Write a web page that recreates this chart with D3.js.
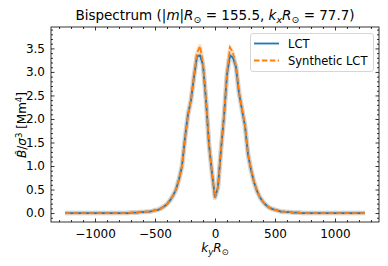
<!DOCTYPE html>
<html>
<head>
<meta charset="utf-8">
<script src="https://cdn.jsdelivr.net/npm/d3@7"></script>
<style>
  body { margin: 0; background: #fff; }
  svg { font-family: "DejaVu Sans", sans-serif; }
</style>
</head>
<body>
<div id="chart"></div>
<script>
// k_y R_sun grid
const ky = [-1250, -1225, -1200, -1175, -1150, -1125, -1100, -1075, -1050, -1025,
  -1000, -975, -950, -925, -900, -875, -850, -825, -800, -775, -750, -725,
  -700, -675, -650, -625, -600, -575, -550, -525, -500, -475, -450, -425, -400,
  -375, -350, -325, -300, -275, -250, -225, -200, -175, -150, -125, -100, -75, -50, -25,
  0,
  25, 50, 75, 100, 125, 150, 175, 200, 225, 250, 275, 300, 325, 350, 375, 400,
  425, 450, 475, 500, 525, 550, 575, 600, 625, 650, 675, 700,
  725, 750, 775, 800, 825, 850, 875, 900, 925, 950, 975, 1000,
  1025, 1050, 1075, 1100, 1125, 1150, 1175, 1200, 1225, 1250];

const lct = [0, 0, 0, 0, 0, 0, 0, 0, 0, 0,
  0, 0, 0, 0, 0, 0, 0, 0, 0, 0, 0, 0,
  0.01, 0.01, 0.01, 0.02, 0.02, 0.03, 0.03, 0.04, 0.06, 0.07, 0.10, 0.14, 0.19,
  0.27, 0.37, 0.50, 0.72, 1.00, 1.60, 2.10, 2.40, 2.90, 3.33, 3.35, 3.15, 2.40, 1.45, 0.85,
  0.33,
  0.55, 1.35, 2.05, 2.95, 3.35, 3.30, 3.10, 2.55, 2.20, 1.85, 1.25, 0.92, 0.66, 0.47, 0.33, 0.24,
  0.17, 0.12, 0.09, 0.07, 0.05, 0.03, 0.03, 0.02, 0.02, 0.01, 0.01, 0.01,
  0, 0, 0, 0, 0, 0, 0, 0, 0, 0, 0, 0,
  0, 0, 0, 0, 0, 0, 0, 0, 0, 0];

const synth = [0, 0, 0, 0, 0, 0, 0, 0, 0, 0,
  0, 0, 0, 0, 0, 0, 0, 0, 0, 0, 0, 0,
  0.01, 0.01, 0.01, 0.02, 0.02, 0.03, 0.03, 0.04, 0.06, 0.07, 0.10, 0.14, 0.19,
  0.27, 0.37, 0.50, 0.72, 1.00, 1.58, 2.08, 2.42, 2.92, 3.40, 3.55, 3.18, 2.42, 1.47, 0.86,
  0.33,
  0.56, 1.36, 2.07, 2.98, 3.52, 3.40, 3.12, 2.57, 2.22, 1.86, 1.26, 0.93, 0.66, 0.47, 0.33, 0.24,
  0.17, 0.12, 0.09, 0.07, 0.05, 0.03, 0.03, 0.02, 0.02, 0.01, 0.01, 0.01,
  0, 0, 0, 0, 0, 0, 0, 0, 0, 0, 0, 0,
  0, 0, 0, 0, 0, 0, 0, 0, 0, 0];

const xTicks = [-1000, -500, 0, 500, 1000];
const yTicks = [0, 0.5, 1.0, 1.5, 2.0, 2.5, 3.0, 3.5];

const W = 388, H = 266;
const margin = { left: 51, right: 9, top: 27, bottom: 44 };

const svg = d3.select("#chart").append("svg")
  .attr("width", W).attr("height", H);

const x = d3.scaleLinear().domain([-1367, 1367]).range([margin.left, W - margin.right]);
const y = d3.scaleLinear().domain([-0.19, 3.955]).range([H - margin.bottom, margin.top]);

const plot = svg.append("g");

// light bands under the lines
const line = d3.line().x((d, i) => x(ky[i])).y(d => y(d));
plot.append("path").datum(lct).attr("d", line)
  .attr("fill", "none").attr("stroke", "#1f77b4").attr("stroke-opacity", 0.2)
  .attr("stroke-width", 5).attr("stroke-linejoin", "round");
plot.append("path").datum(synth).attr("d", line)
  .attr("fill", "none").attr("stroke", "#ff7f0e").attr("stroke-opacity", 0.25)
  .attr("stroke-width", 4).attr("stroke-linejoin", "round");

plot.append("path").datum(lct).attr("d", line)
  .attr("fill", "none").attr("stroke", "#1f77b4").attr("stroke-width", 1.8);
plot.append("path").datum(synth).attr("d", line)
  .attr("fill", "none").attr("stroke", "#ff7f0e").attr("stroke-width", 1.8)
  .attr("stroke-dasharray", "5.5,2.4");

// axes with ticks pointing inward on all four sides
const xMinor = d3.range(-1300, 1301, 100).filter(v => v % 500 !== 0);
const yMinor = d3.range(-1, 40, 1).map(v => v / 10).filter(v => Math.round(v * 10) % 5 !== 0);

const fsz = 12;
svg.append("g").attr("transform", `translate(0,${H - margin.bottom})`)
  .call(d3.axisBottom(x).tickValues(xTicks).tickSizeInner(-3.5).tickSizeOuter(0)
    .tickPadding(7).tickFormat(d => d < 0 ? "\u2212" + Math.abs(d) : d));
svg.append("g").attr("transform", `translate(0,${margin.top})`)
  .call(d3.axisTop(x).tickValues(xTicks).tickSizeInner(-3.5).tickSizeOuter(0).tickFormat(""));
svg.append("g").attr("transform", `translate(${margin.left},0)`)
  .call(d3.axisLeft(y).tickValues(yTicks).tickSizeInner(-3.5).tickSizeOuter(0)
    .tickPadding(6).tickFormat(d3.format(".1f")));
svg.append("g").attr("transform", `translate(${W - margin.right},0)`)
  .call(d3.axisRight(y).tickValues(yTicks).tickSizeInner(-3.5).tickSizeOuter(0).tickFormat(""));

svg.append("g").attr("transform", `translate(0,${H - margin.bottom})`)
  .call(d3.axisBottom(x).tickValues(xMinor).tickSizeInner(-2).tickSizeOuter(0).tickFormat(""));
svg.append("g").attr("transform", `translate(0,${margin.top})`)
  .call(d3.axisTop(x).tickValues(xMinor).tickSizeInner(-2).tickSizeOuter(0).tickFormat(""));
svg.append("g").attr("transform", `translate(${margin.left},0)`)
  .call(d3.axisLeft(y).tickValues(yMinor).tickSizeInner(-2).tickSizeOuter(0).tickFormat(""));
svg.append("g").attr("transform", `translate(${W - margin.right},0)`)
  .call(d3.axisRight(y).tickValues(yMinor).tickSizeInner(-2).tickSizeOuter(0).tickFormat(""));

svg.selectAll(".domain").remove();
svg.selectAll(".tick line").attr("stroke", "#000").attr("stroke-width", 0.8);
svg.selectAll(".tick text").attr("font-family", "DejaVu Sans").attr("font-size", fsz).attr("fill", "#000");

svg.append("rect")
  .attr("x", margin.left).attr("y", margin.top)
  .attr("width", W - margin.left - margin.right).attr("height", H - margin.top - margin.bottom)
  .attr("fill", "none").attr("stroke", "#000").attr("stroke-width", 0.8);

// title
const title = svg.append("text").attr("x", 215).attr("y", 20)
  .attr("text-anchor", "middle").attr("font-size", 13.5);
title.append("tspan").text("Bispectrum (|");
title.append("tspan").attr("font-style", "italic").text("m");
title.append("tspan").text("|");
title.append("tspan").attr("font-style", "italic").text("R");
title.append("tspan").attr("font-size", 9.5).attr("dy", 3).text("\u2299");
title.append("tspan").attr("dy", -3).text(" = 155.5, ");
title.append("tspan").attr("font-style", "italic").text("k");
title.append("tspan").attr("font-style", "italic").attr("font-size", 9.5).attr("dy", 3).text("x");
title.append("tspan").attr("font-style", "italic").attr("dy", -3).text("R");
title.append("tspan").attr("font-size", 9.5).attr("dy", 3).text("\u2299");
title.append("tspan").attr("dy", -3).text(" = 77.7)");

// x label
const xl = svg.append("text").attr("x", 215).attr("y", 252)
  .attr("text-anchor", "middle").attr("font-size", fsz);
xl.append("tspan").attr("font-style", "italic").text("k");
xl.append("tspan").attr("font-style", "italic").attr("font-size", 8.5).attr("dy", 3).text("y");
xl.append("tspan").attr("font-style", "italic").attr("dy", -3).text("R");
xl.append("tspan").attr("font-size", 8.5).attr("dy", 3).text("\u2299");

// y label
const yl = svg.append("text").attr("transform", "translate(26,125) rotate(-90)")
  .attr("text-anchor", "middle").attr("font-size", fsz);
yl.append("tspan").attr("font-style", "italic").text("B\u0302");
yl.append("tspan").text("/");
yl.append("tspan").attr("font-style", "italic").text("\u03c3");
yl.append("tspan").attr("font-size", 8.5).attr("dy", -4).text("3");
yl.append("tspan").attr("dy", 4).text(" [Mm");
yl.append("tspan").attr("font-size", 8.5).attr("dy", -4).text("4");
yl.append("tspan").attr("dy", 4).text("]");

// legend
const legend = svg.append("g");
legend.append("rect").attr("x", 250.5).attr("y", 33.5).attr("width", 123).attr("height", 38)
  .attr("rx", 2.5).attr("fill", "#fff").attr("fill-opacity", 0.8)
  .attr("stroke", "#ccc").attr("stroke-width", 0.8);
const entries = [
  { label: "LCT", color: "#1f77b4", dash: null },
  { label: "Synthetic LCT", color: "#ff7f0e", dash: "5.5,2.4" }
];
entries.forEach((e, i) => {
  const yy = 43.5 + i * 17;
  legend.append("line").attr("x1", 254).attr("x2", 279).attr("y1", yy).attr("y2", yy)
    .attr("stroke", e.color).attr("stroke-width", 1.8).attr("stroke-dasharray", e.dash);
  legend.append("text").attr("x", 288).attr("y", yy + 4).attr("font-size", 11.5).text(e.label);
});
</script>
</body>
</html>
